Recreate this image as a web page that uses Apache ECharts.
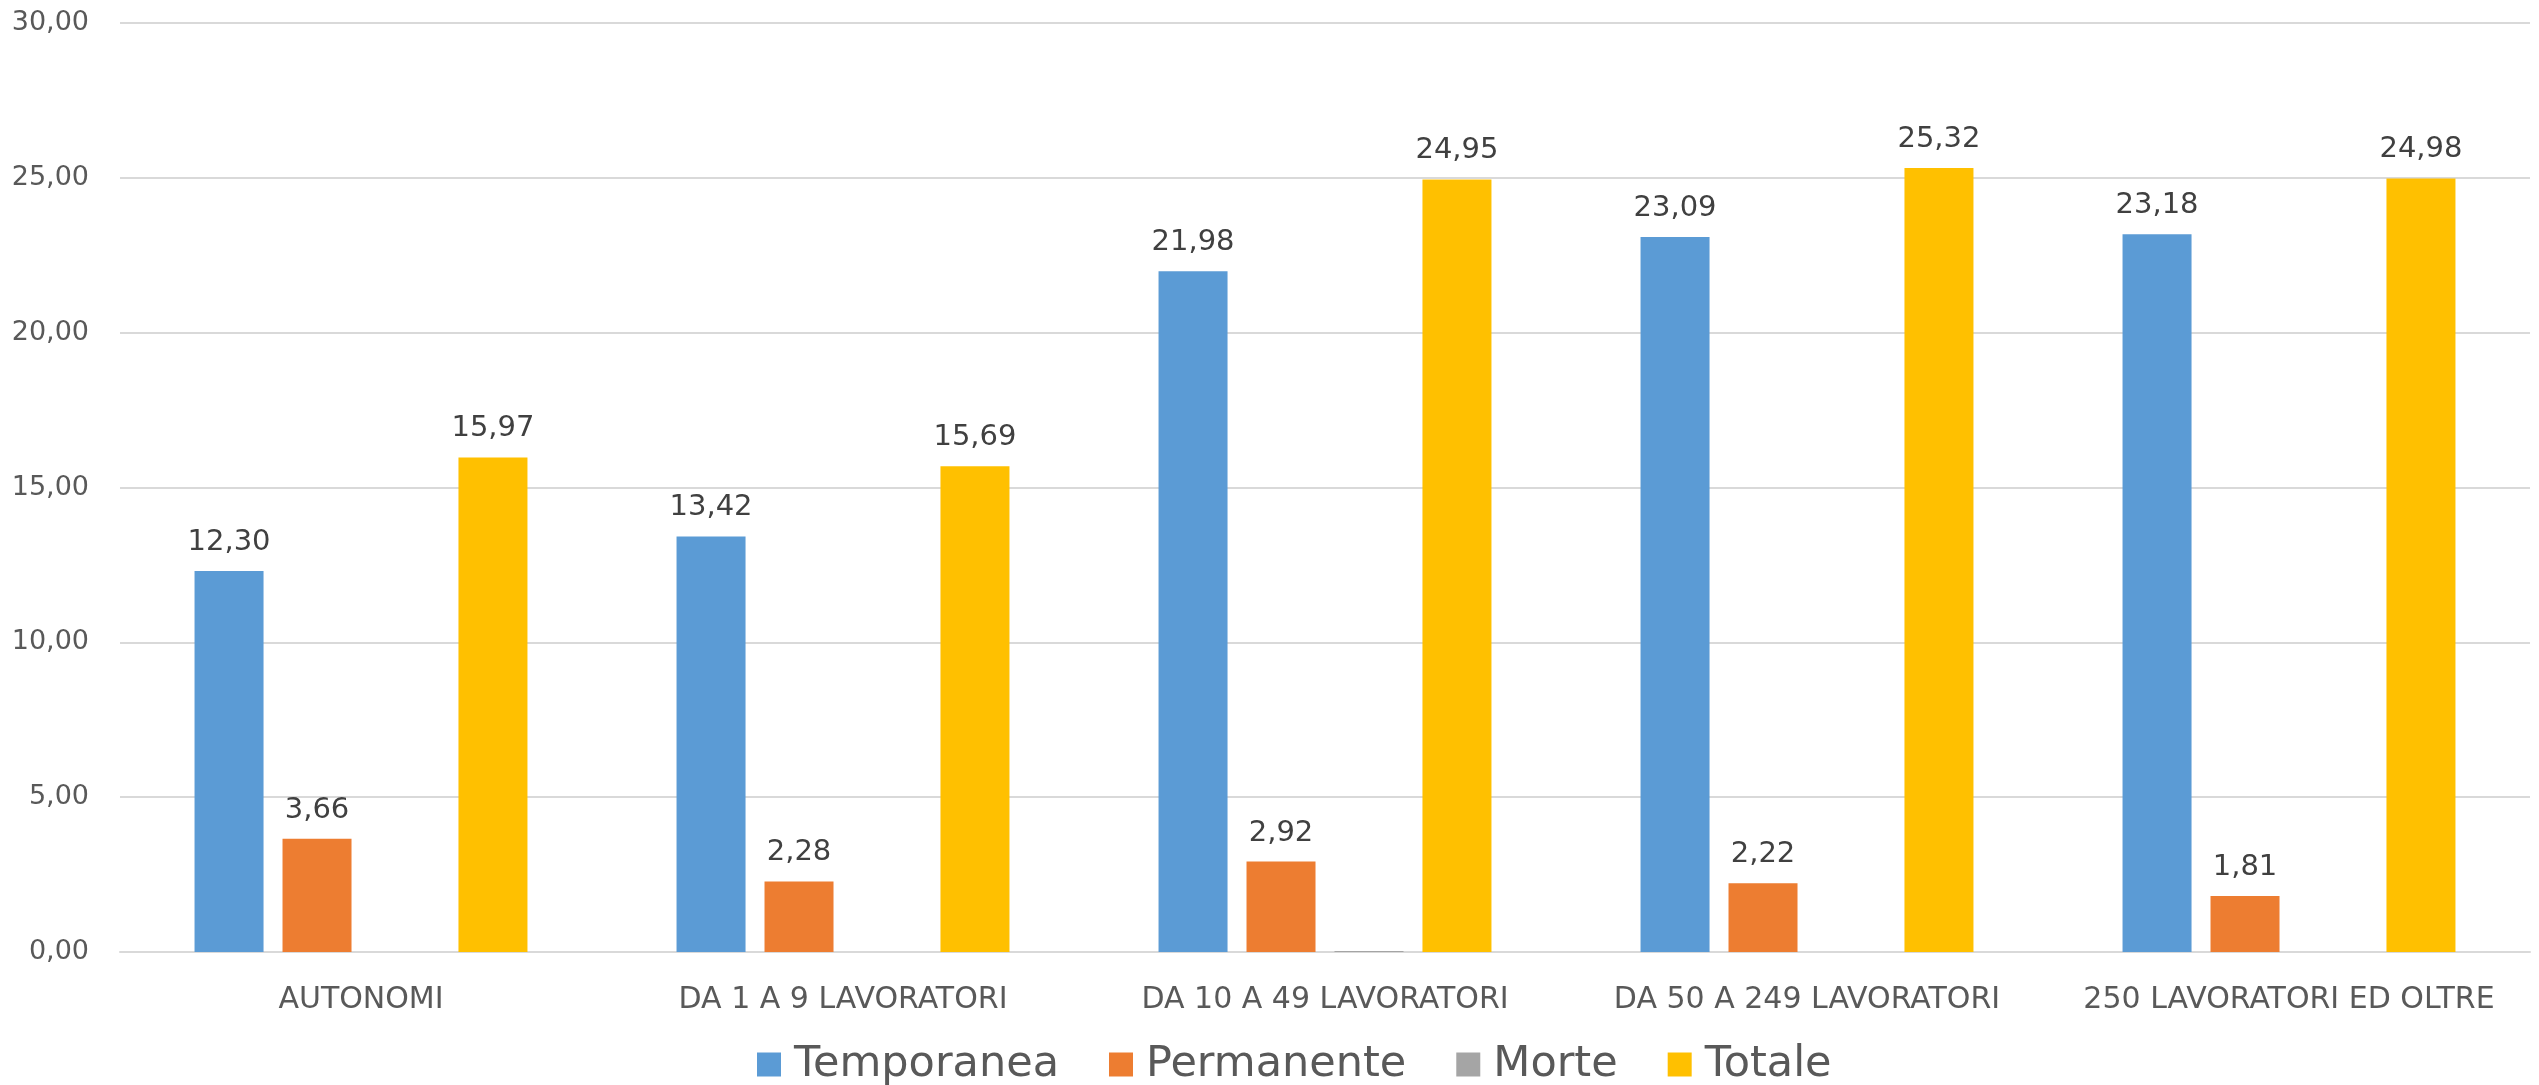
<!DOCTYPE html>
<html>
<head>
<meta charset="utf-8">
<script src="https://cdn.jsdelivr.net/npm/echarts@6/dist/echarts.min.js"></script>
<style>
html,body{margin:0;padding:0;background:#fff;}
#chart{width:2539px;height:1085px;}
</style>
</head>
<body>
<div id="chart"></div>
<script>
const categories = ['AUTONOMI', 'DA 1 A 9 LAVORATORI', 'DA 10 A 49 LAVORATORI', 'DA 50 A 249 LAVORATORI', '250 LAVORATORI ED OLTRE'];
const temporanea = [12.30, 13.42, 21.98, 23.09, 23.18];
const permanente = [3.66, 2.28, 2.92, 2.22, 1.81];
const morte = [0, 0, 0.03, 0, 0];
const totale = [15.97, 15.69, 24.95, 25.32, 24.98];
const yTicks = [0, 5, 10, 15, 20, 25, 30];

const fmt = v => Number(v).toFixed(2).replace('.', ',');
const FONT = 'DejaVu Sans';

function mk(name, data, color, showLabel) {
  return {
    name: name,
    type: 'bar',
    data: data,
    barWidth: 69,
    barGap: '27.5%',
    itemStyle: { color: color },
    label: {
      show: showLabel,
      position: 'top',
      distance: 14,
      formatter: p => fmt(p.value),
      fontFamily: FONT,
      fontSize: 29,
      color: '#404040'
    },
    emphasis: { disabled: true },
    animation: false
  };
}

const chart = echarts.init(document.getElementById('chart'));
chart.setOption({
  animation: false,
  grid: { left: 120, right: 9, top: 23, bottom: 133, containLabel: false },
  legend: {
    bottom: -6,
    left: 752,
    itemWidth: 24,
    itemHeight: 24,
    itemGap: 50,
    icon: 'rect',
    textStyle: { fontFamily: FONT, fontSize: 43, color: '#595959', padding: [0, 0, 0, 8] },
    data: ['Temporanea', 'Permanente', 'Morte', 'Totale']
  },
  xAxis: {
    type: 'category',
    data: categories,
    axisLine: { lineStyle: { color: '#d9d9d9', width: 2 } },
    axisTick: { show: false },
    axisLabel: { fontFamily: FONT, fontSize: 30, color: '#595959', margin: 33, interval: 0 }
  },
  yAxis: {
    type: 'value',
    min: yTicks[0],
    max: yTicks[yTicks.length - 1],
    interval: 5,
    axisLine: { show: false },
    axisTick: { show: false },
    splitLine: { lineStyle: { color: '#d9d9d9', width: 2 } },
    axisLabel: { fontFamily: FONT, fontSize: 27, color: '#595959', margin: 31, formatter: v => fmt(v) }
  },
  series: [
    mk('Temporanea', temporanea, '#5b9bd5', true),
    mk('Permanente', permanente, '#ed7d31', true),
    mk('Morte', morte, '#a5a5a5', false),
    mk('Totale', totale, '#ffc000', true)
  ]
});
</script>
</body>
</html>
